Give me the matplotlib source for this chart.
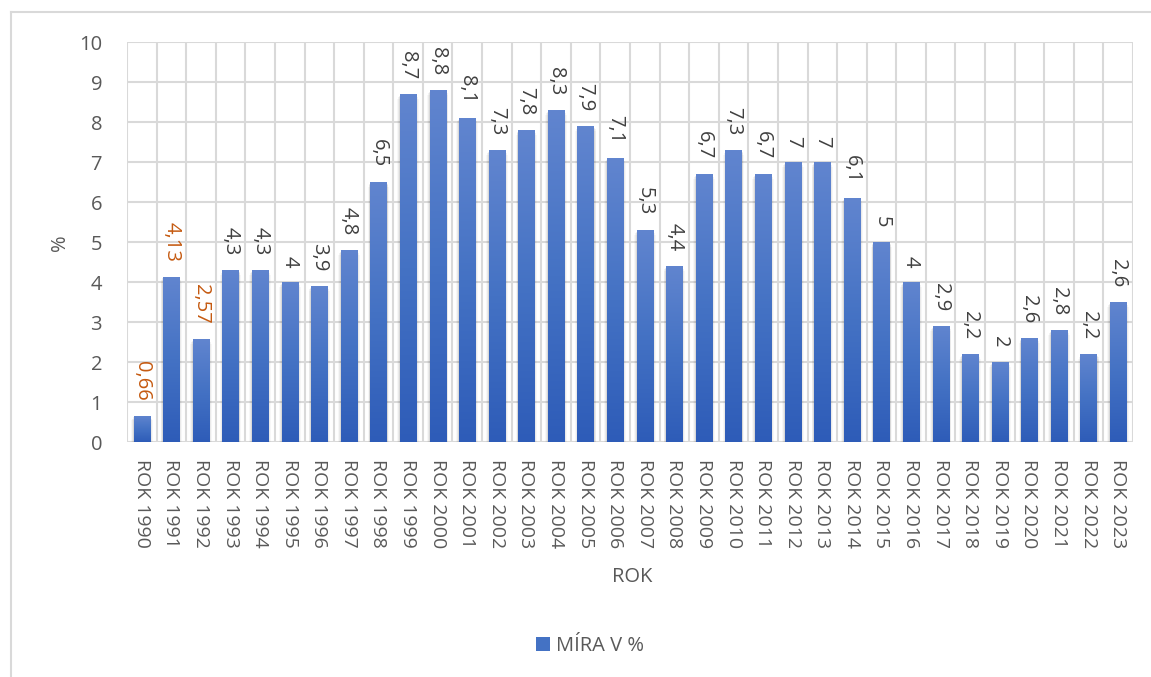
import matplotlib
matplotlib.use("Agg")
import matplotlib.pyplot as plt
import numpy as np
from matplotlib.patches import Rectangle
from matplotlib.colors import LinearSegmentedColormap
from matplotlib.lines import Line2D

years = [str(y) for y in range(1990, 2024)]
categories = ["ROK " + y for y in years]
values = [0.66, 4.13, 2.57, 4.3, 4.3, 4.0, 3.9, 4.8, 6.5, 8.7, 8.8, 8.1, 7.3, 7.8,
          8.3, 7.9, 7.1, 5.3, 4.4, 6.7, 7.3, 6.7, 7.0, 7.0, 6.1, 5.0, 4.0, 2.9,
          2.2, 2.0, 2.6, 2.8, 2.2, 3.5]
labels = ["0,66", "4,13", "2,57", "4,3", "4,3", "4", "3,9", "4,8", "6,5", "8,7", "8,8",
          "8,1", "7,3", "7,8", "8,3", "7,9", "7,1", "5,3", "4,4", "6,7", "7,3", "6,7",
          "7", "7", "6,1", "5", "4", "2,9", "2,2", "2", "2,6", "2,8", "2,2", "2,6"]
orange_idx = [0, 1, 2]

plt.rcParams['font.family'] = ['Open Sans', 'DejaVu Sans']
W, H = 1151, 677
fig = plt.figure(figsize=(W / 100, H / 100), dpi=100)
ax = fig.add_axes([127 / W, 1 - 442 / H, (1133 - 127) / W, (442 - 42) / H])

n = len(values)
x = np.arange(n)
bw = 0.55
grid_c = "#D9D9D9"
txt_c = "#595959"

ax.set_xlim(-0.5, n - 0.5)
ax.set_ylim(0, 10)
for yv in range(0, 11):
    ax.axhline(yv, color=grid_c, lw=1.5, zorder=0)
for xv in np.arange(-0.5, n, 1.0):
    ax.axvline(xv, color=grid_c, lw=1.5, zorder=0)

cmap = LinearSegmentedColormap.from_list("g", ["#2E5CB8", "#4472C4", "#6185CF"])
grad = np.linspace(0, 1, 256).reshape(-1, 1)
for i, v in enumerate(values):
    # soft shadow
    for k, a in enumerate([0.07, 0.05, 0.03]):
        sh = Rectangle((x[i] - bw / 2 - 0.03 * (k + 1), -0.04 * (k + 1)),
                       bw + 0.06 * (k + 1), v, facecolor="#000000", alpha=a, lw=0,
                       zorder=1)
        ax.add_patch(sh)
    rect = Rectangle((x[i] - bw / 2, 0), bw, v, facecolor="none", lw=0, zorder=2)
    ax.add_patch(rect)
    im = ax.imshow(grad, extent=(x[i] - bw / 2, x[i] + bw / 2, 0, v), origin="lower",
                   aspect="auto", cmap=cmap, zorder=2)
    im.set_clip_path(rect)
    col = "#C55A11" if i in orange_idx else "#404040"
    ax.annotate(labels[i], (x[i], v), xytext=(0, 15), textcoords="offset pixels",
                rotation=270, ha="center", va="bottom", fontsize=14.5, color=col,
                zorder=5)

ax.set_xticks(x)
ax.set_xticklabels(categories, rotation=270, fontsize=14, color=txt_c)
ax.set_yticks(range(0, 11))
ax.set_yticklabels([str(v) for v in range(0, 11)], fontsize=14.5, color=txt_c)
ax.tick_params(axis="x", length=0, pad=12)
ax.tick_params(axis="y", length=0, pad=18)
for s in ax.spines.values():
    s.set_visible(False)
ax.set_aspect("auto")

fig.text(632 / W, 1 - 577 / H, "ROK", ha="center", va="center", fontsize=14.5, color=txt_c)
fig.text(60 / W, 1 - 243 / H, "%", ha="center", va="center", rotation=90, fontsize=14.5,
         color=txt_c)

handle = Rectangle((0, 0), 1, 1, facecolor="#4472C4", lw=0)
fig.legend([handle], ["MÍRA V %"], loc="center", bbox_to_anchor=(590 / W, 1 - 646 / H),
           frameon=False, fontsize=14.5, handlelength=0.7, handleheight=0.7,
           handletextpad=0.3, labelcolor=txt_c)

fig.add_artist(Line2D([11 / W, 11 / W], [0, 1 - 12 / H], transform=fig.transFigure,
                      color=grid_c, lw=1.5))
fig.add_artist(Line2D([11 / W, 1], [1 - 12 / H, 1 - 12 / H], transform=fig.transFigure,
                      color=grid_c, lw=1.5))

fig.savefig("out.png", dpi=100)
